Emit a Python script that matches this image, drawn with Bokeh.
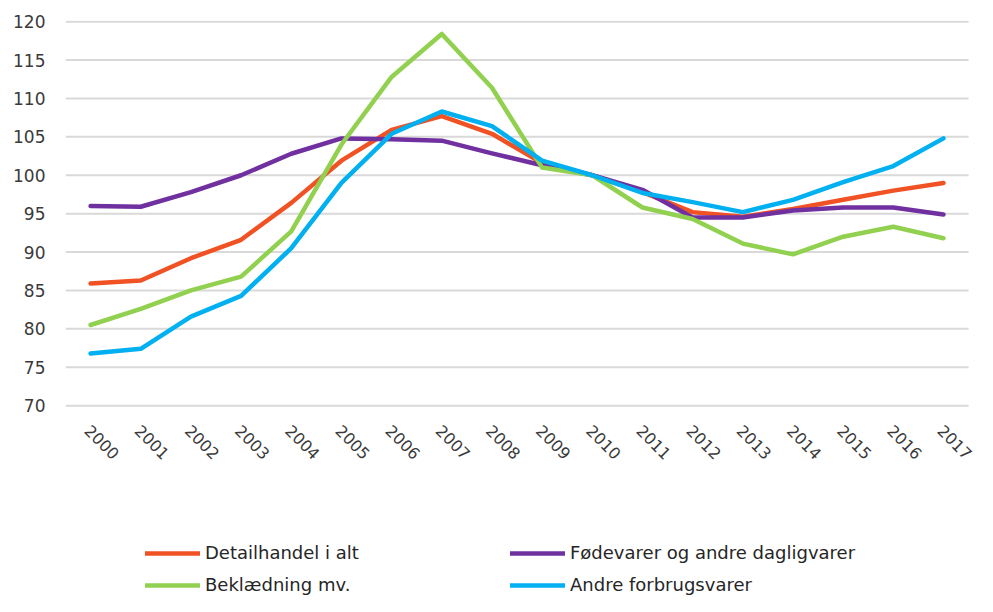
import math
from bokeh.plotting import figure
from bokeh.models import Legend, LegendItem, FixedTicker, Range1d
from bokeh.core.properties import value
from bokeh.embed import file_html
from bokeh.resources import INLINE

years = [2000, 2001, 2002, 2003, 2004, 2005, 2006, 2007, 2008,
         2009, 2010, 2011, 2012, 2013, 2014, 2015, 2016, 2017]
year_labels = [str(y) for y in years]
y_ticks = [70, 75, 80, 85, 90, 95, 100, 105, 110, 115, 120]

detailhandel = [85.9, 86.3, 89.2, 91.6, 96.4, 101.9, 105.9, 107.7, 105.4, 101.6,
                100.0, 97.8, 95.2, 94.6, 95.6, 96.8, 98.0, 99.0]
foedevarer = [96.0, 95.9, 97.8, 100.0, 102.8, 104.8, 104.7, 104.5, 102.85, 101.3,
              100.0, 98.1, 94.5, 94.5, 95.4, 95.8, 95.8, 94.9]
beklaedning = [80.5, 82.6, 85.0, 86.8, 92.7, 104.0, 112.8, 118.4, 111.4, 101.0,
               100.0, 95.8, 94.3, 91.1, 89.7, 92.0, 93.3, 91.8]
andre = [76.8, 77.4, 81.6, 84.3, 90.5, 99.0, 105.4, 108.3, 106.4, 101.9,
         100.0, 97.7, 96.5, 95.2, 96.8, 99.1, 101.2, 104.8]

labels = ["Detailhandel i alt", "Fødevarer og andre dagligvarer",
          "Beklædning mv.", "Andre forbrugsvarer"]
colors = ["#f05224", "#7030a0", "#92d050", "#00b0f0"]

FONT = "DejaVu Sans"
TXT = "#3a3a3a"

# category slots: each year occupies one unit, centred on the year
x_lo = years[0] - 0.5
x_hi = years[-1] + 0.5

p = figure(width=977, height=596,
           x_range=Range1d(x_lo, x_lo + 912 / 50.17),
           y_range=Range1d(45.15, 120.15), output_backend="svg",
           toolbar_location=None, min_border_left=65, min_border_right=0,
           min_border_top=20, min_border_bottom=0)
p.outline_line_color = None
p.background_fill_color = "white"
p.border_fill_color = "white"
p.xgrid.grid_line_color = None
p.ygrid.grid_line_color = None
p.xaxis.visible = False

# horizontal gridlines spanning the category slots
p.segment(x0=[x_lo] * len(y_ticks), x1=[x_hi] * len(y_ticks), y0=y_ticks, y1=y_ticks,
          line_color="#d9d9d9", line_width=2)

p.yaxis.ticker = FixedTicker(ticks=y_ticks)
p.yaxis.axis_line_color = None
p.yaxis.major_tick_line_color = None
p.yaxis.minor_tick_line_color = None
p.yaxis.major_tick_in = 0
p.yaxis.major_tick_out = 0
p.yaxis.major_label_standoff = 20
p.yaxis.major_label_text_font = FONT
p.yaxis.major_label_text_font_size = "17px"
p.yaxis.major_label_text_color = TXT

# category labels under the 70 line, rotated like the original
p.text(x=years, y=[y_ticks[0]] * len(years), text=year_labels,
       angle=-math.pi / 4, text_align="left", text_baseline="middle",
       x_offset=-3, y_offset=22, text_font=value(FONT), text_font_size="16px",
       text_color=TXT)

series = [detailhandel, foedevarer, beklaedning, andre]
renderers = []
for vals, c in zip(series, colors):
    r = p.line(x=years, y=vals, line_color=c, line_width=4.5,
               line_join="round", line_cap="round")
    renderers.append(r)

def make_legend(idx, loc):
    lg = Legend(items=[LegendItem(label=labels[i], renderers=[renderers[i]]) for i in idx],
                location=loc, orientation="vertical")
    lg.label_text_font = FONT
    lg.label_text_font_size = "18px"
    lg.label_text_color = "#262626"
    lg.glyph_width = 55
    lg.glyph_height = 20
    lg.label_height = 20
    lg.label_standoff = 5
    lg.spacing = 11
    lg.padding = 0
    lg.margin = 0
    lg.border_line_color = None
    lg.background_fill_alpha = 0
    return lg

p.add_layout(make_legend([0, 2], (80, 1)))
p.add_layout(make_legend([1, 3], (445, 1)))

open("out.html", "w").write(file_html(p, INLINE))
